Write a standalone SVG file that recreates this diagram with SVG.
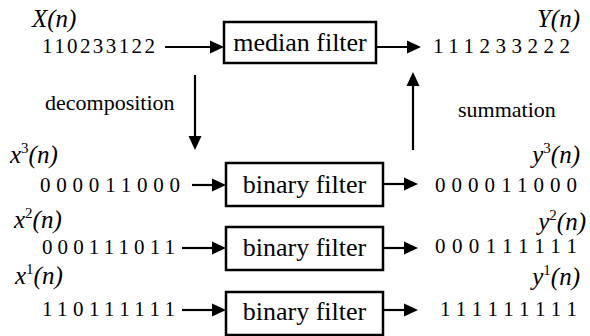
<svg xmlns="http://www.w3.org/2000/svg" width="590" height="336" viewBox="0 0 590 336">
  <rect width="590" height="336" fill="#fff"/>

  <!-- input signal -->
  <g id="input-x">
    <text style="font-family: 'Liberation Serif', serif; font-size: 25px; font-style: italic" x="32" y="27">X(n)</text>
    <text style="font-family: 'Liberation Serif', serif; font-size: 21px" x="42" y="53" textLength="113" lengthAdjust="spacing">110233122</text>
  </g>

  <!-- median filter -->
  <g id="median-filter">
    <rect x="224" y="22" width="152" height="41" fill="#fff" stroke="#000" stroke-width="2.5"/>
    <text style="font-family: 'Liberation Serif', serif; font-size: 26px" text-anchor="middle" x="300" y="51">median filter</text>
  </g>

  <!-- output signal -->
  <g id="output-y">
    <text style="font-family: 'Liberation Serif', serif; font-size: 25px; font-style: italic" x="580" y="27" text-anchor="end">Y(n)</text>
    <text style="font-family: 'Liberation Serif', serif; font-size: 21px" x="433" y="53" textLength="137" lengthAdjust="spacing">111233222</text>
  </g>

  <!-- threshold levels, input side -->
  <g id="input-x3">
    <text style="font-family: 'Liberation Serif', serif; font-size: 25px; font-style: italic" x="10" y="163">x<tspan style="font-style: normal; font-size: 15px" dy="-10">3</tspan><tspan dy="10">(n)</tspan></text>
    <text style="font-family: 'Liberation Serif', serif; font-size: 21px" x="40" y="192" textLength="140" lengthAdjust="spacing">000011000</text>
  </g>
  <g id="input-x2">
    <text style="font-family: 'Liberation Serif', serif; font-size: 25px; font-style: italic" x="14" y="228">x<tspan style="font-style: normal; font-size: 15px" dy="-10">2</tspan><tspan dy="10">(n)</tspan></text>
    <text style="font-family: 'Liberation Serif', serif; font-size: 21px" x="42" y="254" textLength="133" lengthAdjust="spacing">000111011</text>
  </g>
  <g id="input-x1">
    <text style="font-family: 'Liberation Serif', serif; font-size: 25px; font-style: italic" x="15" y="284">x<tspan style="font-style: normal; font-size: 15px" dy="-10">1</tspan><tspan dy="10">(n)</tspan></text>
    <text style="font-family: 'Liberation Serif', serif; font-size: 21px" x="42" y="316" textLength="133" lengthAdjust="spacing">110111111</text>
  </g>

  <!-- binary filters -->
  <g id="binary-filter-3">
    <rect x="226" y="163" width="157" height="43" fill="#fff" stroke="#000" stroke-width="2.5"/>
    <text style="font-family: 'Liberation Serif', serif; font-size: 26px" text-anchor="middle" x="304.5" y="193">binary filter</text>
  </g>
  <g id="binary-filter-2">
    <rect x="226" y="227" width="157" height="43" fill="#fff" stroke="#000" stroke-width="2.5"/>
    <text style="font-family: 'Liberation Serif', serif; font-size: 26px" text-anchor="middle" x="304.5" y="256">binary filter</text>
  </g>
  <g id="binary-filter-1">
    <rect x="226" y="292" width="157" height="43" fill="#fff" stroke="#000" stroke-width="2.5"/>
    <text style="font-family: 'Liberation Serif', serif; font-size: 26px" text-anchor="middle" x="304.5" y="320">binary filter</text>
  </g>

  <!-- threshold levels, output side -->
  <g id="output-y3">
    <text style="font-family: 'Liberation Serif', serif; font-size: 25px; font-style: italic" x="580" y="163" text-anchor="end">y<tspan style="font-style: normal; font-size: 15px" dy="-10">3</tspan><tspan dy="10">(n)</tspan></text>
    <text style="font-family: 'Liberation Serif', serif; font-size: 21px" x="435" y="192" textLength="142" lengthAdjust="spacing">000011000</text>
  </g>
  <g id="output-y2">
    <text style="font-family: 'Liberation Serif', serif; font-size: 25px; font-style: italic" x="586" y="230" text-anchor="end">y<tspan style="font-style: normal; font-size: 15px" dy="-10">2</tspan><tspan dy="10">(n)</tspan></text>
    <text style="font-family: 'Liberation Serif', serif; font-size: 21px" x="435" y="253" textLength="142" lengthAdjust="spacing">000111111</text>
  </g>
  <g id="output-y1">
    <text style="font-family: 'Liberation Serif', serif; font-size: 25px; font-style: italic" x="580" y="285" text-anchor="end">y<tspan style="font-style: normal; font-size: 15px" dy="-10">1</tspan><tspan dy="10">(n)</tspan></text>
    <text style="font-family: 'Liberation Serif', serif; font-size: 21px" x="440" y="316" textLength="137" lengthAdjust="spacing">111111111</text>
  </g>

  <!-- connectors: shafts, then filled arrowheads -->
  <g id="connectors">
    <g stroke="#000" stroke-width="2.2" fill="none">
      <line x1="165" y1="47" x2="212" y2="47"/>
      <line x1="376" y1="47" x2="409" y2="47"/>
      <line x1="195" y1="75" x2="195" y2="138"/>
      <line x1="413" y1="150" x2="413" y2="84"/>
      <line x1="192" y1="185" x2="214" y2="185"/>
      <line x1="383" y1="184" x2="406" y2="184"/>
      <line x1="182" y1="248" x2="214" y2="248"/>
      <line x1="383" y1="248" x2="406" y2="248"/>
      <line x1="182" y1="310" x2="214" y2="310"/>
      <line x1="383" y1="310" x2="406" y2="310"/>
    </g>
    <g fill="#000">
      <polygon points="210,40.5 224,47 210,53.5"/>
      <polygon points="407,40.5 421,47 407,53.5"/>
      <polygon points="188.5,136 195,150 201.5,136"/>
      <polygon points="406.5,86 413,72 419.5,86"/>
      <polygon points="212,178.5 226,185 212,191.5"/>
      <polygon points="404,177.5 418,184 404,190.5"/>
      <polygon points="212,241.5 226,248 212,254.5"/>
      <polygon points="404,241.5 418,248 404,254.5"/>
      <polygon points="212,303.5 226,310 212,316.5"/>
      <polygon points="404,303.5 418,310 404,316.5"/>
    </g>
    <text style="font-family: 'Liberation Serif', serif; font-size: 22px" x="45" y="110">decomposition</text>
    <text style="font-family: 'Liberation Serif', serif; font-size: 22px" x="458" y="117">summation</text>
  </g>
</svg>
